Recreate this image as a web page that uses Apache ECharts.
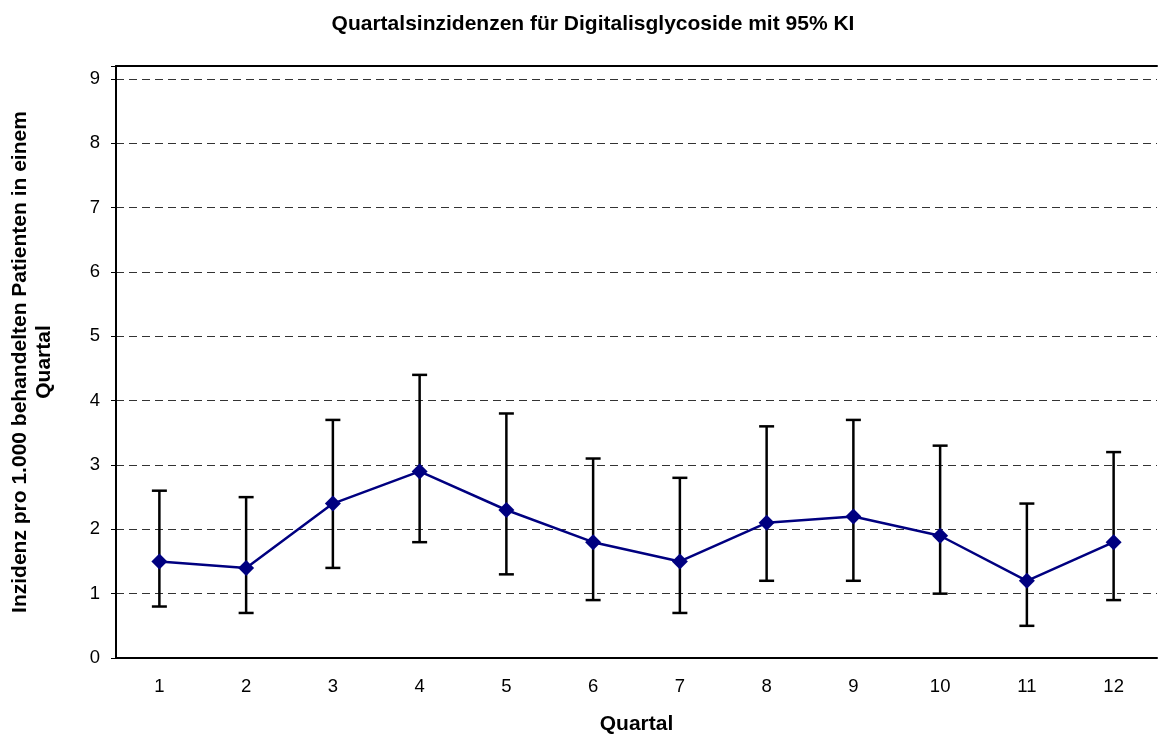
<!DOCTYPE html>
<html>
<head>
<meta charset="utf-8">
<script src="https://cdn.jsdelivr.net/npm/echarts@6/dist/echarts.min.js"></script>
<style>html,body{margin:0;padding:0;background:#fff}#c{width:1158px;height:738px}</style>
</head>
<body>
<div id="c"></div>
<script>
const categories = ['1','2','3','4','5','6','7','8','9','10','11','12'];
const incidence = [1.5, 1.4, 2.4, 2.9, 2.3, 1.8, 1.5, 2.1, 2.2, 1.9, 1.2, 1.8];
const upperCI  = [2.6, 2.5, 3.7, 4.4, 3.8, 3.1, 2.8, 3.6, 3.7, 3.3, 2.4, 3.2];
const lowerCI  = [0.8, 0.7, 1.4, 1.8, 1.3, 0.9, 0.7, 1.2, 1.2, 1.0, 0.5, 0.9];

const errData = categories.map((c, i) => [i, lowerCI[i], upperCI[i]]);
const font = '"Liberation Sans", Arial, sans-serif';

const chart = echarts.init(document.getElementById('c'));
chart.setOption({
  animation: false,
  backgroundColor: '#fff',
  title: {
    text: 'Quartalsinzidenzen für Digitalisglycoside mit 95% KI',
    left: 588, top: 9, textAlign: 'center',
    textStyle: { fontFamily: font, fontSize: 21, fontWeight: 'bold', color: '#000' }
  },
  grid: { left: 116, top: 66, right: 1, bottom: 80, containLabel: false, outerBoundsMode: 'none' },
  xAxis: [{
    type: 'category', data: categories, boundaryGap: true,
    axisLine: { lineStyle: { color: '#000', width: 2 } },
    axisTick: { show: false },
    axisLabel: { fontFamily: font, fontSize: 18.5, color: '#000', margin: 19 },
    name: 'Quartal', nameLocation: 'middle', nameGap: 56,
    nameTextStyle: { fontFamily: font, fontSize: 21, fontWeight: 'bold', color: '#000' }
  }, {
    type: 'category', data: categories, position: 'top',
    axisLine: { lineStyle: { color: '#000', width: 2 } },
    axisTick: { show: false }, axisLabel: { show: false }
  }],
  yAxis: {
    type: 'value', min: 0, max: 9.2, interval: 1,
    axisLine: { show: true, lineStyle: { color: '#000', width: 2 } },
    axisTick: { show: true, length: 5, lineStyle: { color: '#000', width: 1 } },
    axisLabel: {
      fontFamily: font, fontSize: 18.5, color: '#000', margin: 16,
      formatter: v => (Math.abs(v - Math.round(v)) < 1e-9 ? String(Math.round(v)) : '')
    },
    splitLine: { show: true, lineStyle: { color: '#333', type: [8, 5], width: 1 } },
    name: 'Inzidenz pro 1.000 behandelten Patienten in einem\nQuartal',
    nameLocation: 'middle', nameGap: 60, nameRotate: 90,
    nameTextStyle: { fontFamily: font, fontSize: 21, fontWeight: 'bold', color: '#000', lineHeight: 24, align: 'center' }
  },
  series: [{
    type: 'custom',
    data: errData,
    z: 2,
    renderItem: function (params, api) {
      const x = api.value(0);
      const lo = api.coord([x, api.value(1)]);
      const hi = api.coord([x, api.value(2)]);
      const hw = 7.5;
      const st = { stroke: '#000', lineWidth: 2.5 };
      return {
        type: 'group',
        children: [
          { type: 'line', shape: { x1: lo[0], y1: lo[1], x2: hi[0], y2: hi[1] }, style: st },
          { type: 'line', shape: { x1: lo[0] - hw, y1: lo[1], x2: lo[0] + hw, y2: lo[1] }, style: st },
          { type: 'line', shape: { x1: hi[0] - hw, y1: hi[1], x2: hi[0] + hw, y2: hi[1] }, style: st }
        ]
      };
    }
  }, {
    type: 'line',
    data: incidence,
    z: 5,
    symbol: 'diamond', symbolSize: [16, 16],
    itemStyle: { color: '#000080' },
    lineStyle: { color: '#000080', width: 2.5 }
  }]
});
</script>
</body>
</html>
